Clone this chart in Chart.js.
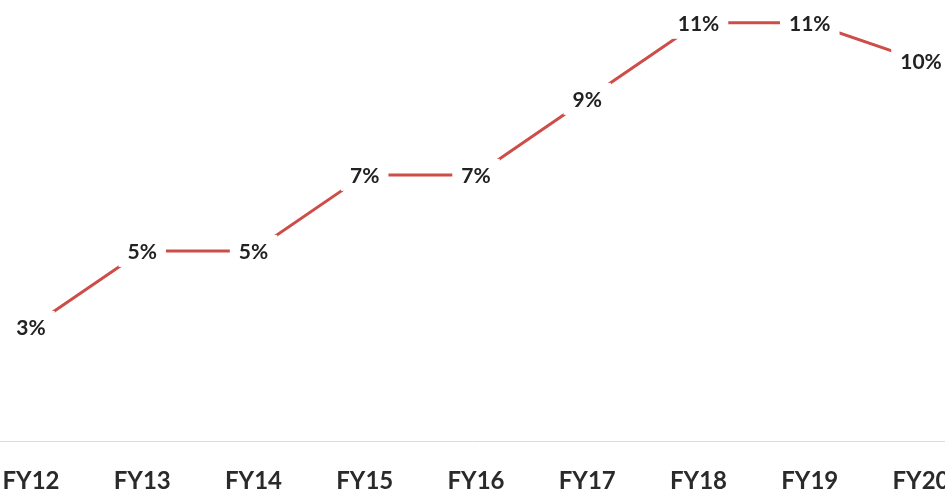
<!DOCTYPE html>
<html>
<head>
<meta charset="utf-8">
<script src="https://cdn.jsdelivr.net/npm/chart.js@4/dist/chart.umd.min.js"></script>
<style>
  html, body { margin: 0; padding: 0; background: #ffffff; }
  #wrap { width: 945px; height: 496px; }
</style>
</head>
<body>
<div id="wrap"><canvas id="c" width="945" height="496"></canvas></div>
<script>
const categories = ["FY12", "FY13", "FY14", "FY15", "FY16", "FY17", "FY18", "FY19", "FY20"];
const shareValues = [3, 5, 5, 7, 7, 9, 11, 11, 10];
const valueLabels = ["3%", "5%", "5%", "7%", "7%", "9%", "11%", "11%", "10%"];

const baselinePlugin = {
  id: 'baseline',
  beforeDatasetsDraw(chart) {
    const ctx = chart.ctx;
    const y = Math.round(chart.scales.y.getPixelForValue(0)) + 0.5;
    ctx.save();
    ctx.strokeStyle = '#dcdcdc';
    ctx.lineWidth = 1;
    ctx.beginPath();
    ctx.moveTo(0, y);
    ctx.lineTo(chart.width, y);
    ctx.stroke();
    ctx.restore();
  }
};

const labelPlugin = {
  id: 'valueLabels',
  afterDatasetsDraw(chart) {
    const ctx = chart.ctx;
    const meta = chart.getDatasetMeta(0);
    ctx.save();
    ctx.font = 'bold 21px Lato';
    ctx.textAlign = 'center';
    ctx.textBaseline = 'middle';
    meta.data.forEach((pt, i) => {
      const txt = valueLabels[i];
      const w = ctx.measureText(txt).width;
      const padX = 9, h = 32;
      ctx.fillStyle = '#ffffff';
      ctx.fillRect(pt.x - w / 2 - padX, pt.y - h / 2, w + 2 * padX, h);
      ctx.fillStyle = '#222222';
      ctx.fillText(txt, pt.x, pt.y + 1);
    });
    ctx.restore();
  }
};

new Chart(document.getElementById('c'), {
  type: 'line',
  data: {
    labels: categories,
    datasets: [{
      data: shareValues,
      borderColor: '#cd4d48',
      borderWidth: 3,
      pointRadius: 0,
      tension: 0,
      fill: false
    }]
  },
  options: {
    responsive: false,
    animation: false,
    layout: { autoPadding: false, padding: { left: 31, right: 24, top: 0, bottom: 0 } },
    plugins: { legend: { display: false }, tooltip: { enabled: false } },
    scales: {
      x: {
        offset: false,
        grid: { display: false, drawTicks: false },
        border: { display: false },
        afterFit(scale) {
          scale.paddingLeft = 0;
          scale.paddingRight = 0;
          scale.height = 55;
        },
        ticks: {
          padding: 26,
          color: '#2a2a2a',
          font: { family: 'Lato', size: 24, weight: 'bold' },
          maxRotation: 0,
          autoSkip: false
        }
      },
      y: {
        display: false,
        min: 0,
        max: 11.6
      }
    }
  },
  plugins: [baselinePlugin, labelPlugin]
});
</script>
</body>
</html>
